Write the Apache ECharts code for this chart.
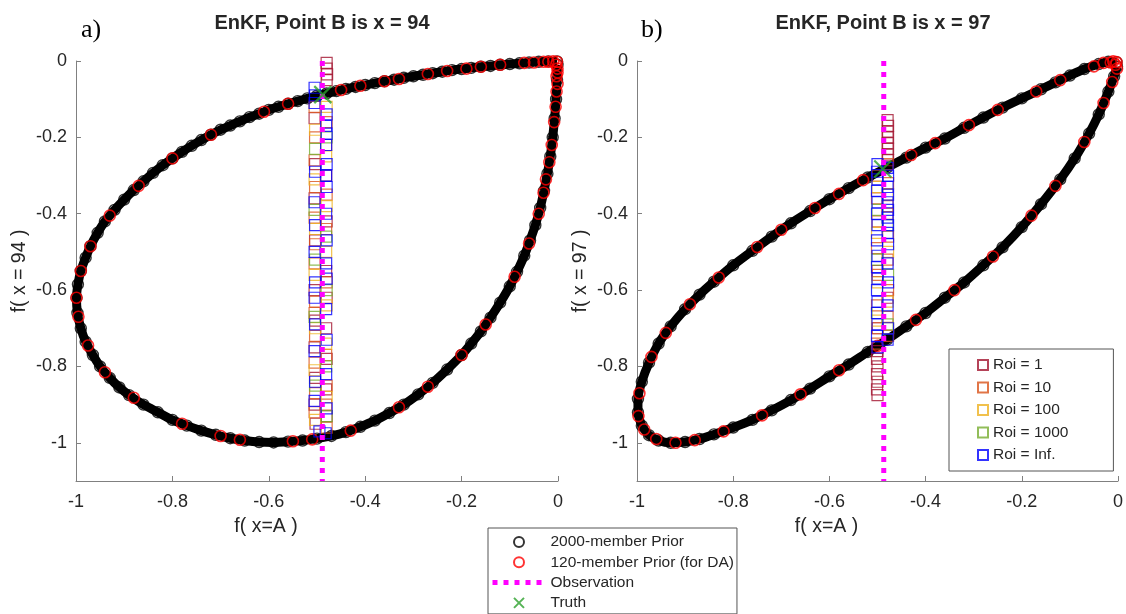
<!DOCTYPE html>
<html>
<head>
<meta charset="utf-8">
<script src="https://cdn.jsdelivr.net/npm/echarts@6/dist/echarts.min.js"></script>
<style>
  html, body { margin: 0; padding: 0; background: #fff; }
  #chart { width: 1126px; height: 614px; }
</style>
</head>
<body>
<div id="chart"></div>
<script>
// Axis ticks
const xTicks = [-1, -0.8, -0.6, -0.4, -0.2, 0];
const yTicks = [0, -0.2, -0.4, -0.6, -0.8, -1];

// Panel a) : point B is x = 94
const priorA = [
  [-0.002,-0.001],[-0.02,-0.001],[-0.04,-0.002],[-0.06,-0.004],[-0.08,-0.006],[-0.1,-0.008],[-0.12,-0.010],[-0.14,-0.013],
  [-0.16,-0.015],[-0.18,-0.018],[-0.2,-0.021],[-0.22,-0.024],[-0.24,-0.028],[-0.26,-0.032],[-0.28,-0.036],[-0.3,-0.040],
  [-0.32,-0.044],[-0.34,-0.049],[-0.36,-0.053],[-0.38,-0.058],[-0.4,-0.063],[-0.42,-0.068],[-0.44,-0.073],[-0.46,-0.079],
  [-0.48,-0.085],[-0.5,-0.091],[-0.52,-0.098],[-0.54,-0.105],[-0.56,-0.112],[-0.58,-0.120],[-0.6,-0.128],[-0.62,-0.138],
  [-0.64,-0.147],[-0.66,-0.158],[-0.68,-0.169],[-0.7,-0.180],[-0.72,-0.193],[-0.74,-0.207],[-0.76,-0.222],[-0.78,-0.238],
  [-0.8,-0.255],[-0.82,-0.273],[-0.84,-0.293],[-0.86,-0.315],[-0.88,-0.338],[-0.9,-0.363],[-0.92,-0.39],[-0.94,-0.42],
  [-0.955,-0.45],[-0.97,-0.485],[-0.98,-0.515],[-0.99,-0.55],[-0.996,-0.585],[-0.999,-0.62],
  [-0.997,-0.66],[-0.99,-0.7],[-0.98,-0.735],[-0.965,-0.77],[-0.95,-0.8],[-0.93,-0.83],[-0.91,-0.855],[-0.89,-0.875],
  [-0.86,-0.9],[-0.83,-0.92],[-0.8,-0.94],[-0.77,-0.955],[-0.74,-0.968],[-0.71,-0.979],[-0.68,-0.988],[-0.65,-0.994],
  [-0.62,-0.998],[-0.59,-0.999],[-0.56,-0.997],[-0.53,-0.994],[-0.5,-0.989],[-0.47,-0.982],[-0.44,-0.972],[-0.41,-0.958],
  [-0.38,-0.942],[-0.35,-0.922],[-0.32,-0.9],[-0.29,-0.873],[-0.26,-0.843],[-0.23,-0.808],[-0.2,-0.77],[-0.18,-0.74],
  [-0.16,-0.708],[-0.14,-0.672],[-0.12,-0.633],[-0.1,-0.59],[-0.085,-0.552],[-0.07,-0.51],[-0.058,-0.47],[-0.047,-0.43],
  [-0.037,-0.385],[-0.029,-0.34],[-0.022,-0.295],[-0.016,-0.25],[-0.011,-0.2],[-0.007,-0.15],[-0.004,-0.1],[-0.002,-0.05],
  [-0.001,-0.01]
];
const daPriorA = [
  [-0.002,-0.002],[-0.01,-0.001],[-0.02,-0.002],[-0.004,-0.01],[-0.001,-0.02],[-0.03,-0.002],[-0.05,-0.004],[-0.003,-0.04],
  [-0.07,-0.005],[-0.12,-0.01],[-0.16,-0.015],[-0.19,-0.02],[-0.23,-0.026],[-0.27,-0.034],[-0.33,-0.047],[-0.36,-0.053],
  [-0.41,-0.065],[-0.45,-0.076],[-0.56,-0.112],[-0.61,-0.133],[-0.72,-0.193],[-0.8,-0.255],[-0.87,-0.327],[-0.93,-0.405],
  [-0.97,-0.485],[-0.99,-0.55],[-0.999,-0.62],[-0.995,-0.67],[-0.975,-0.745],[-0.94,-0.815],[-0.88,-0.882],[-0.78,-0.95],
  [-0.7,-0.982],[-0.66,-0.992],[-0.55,-0.996],[-0.51,-0.991],[-0.43,-0.968],[-0.33,-0.907],[-0.27,-0.853],[-0.2,-0.77],
  [-0.15,-0.69],[-0.09,-0.565],[-0.06,-0.478],[-0.04,-0.4],[-0.03,-0.345],[-0.025,-0.31],[-0.018,-0.265],[-0.013,-0.22],
  [-0.008,-0.16],[-0.005,-0.12],[-0.003,-0.08],[-0.001,-0.03],[-0.001,-0.06]
];
const roi1A = [
  [-0.48,-0.005],[-0.48,-0.02],[-0.479,-0.035],[-0.48,-0.05],[-0.481,-0.3],[-0.48,-0.42],[-0.481,-0.55],[-0.48,-0.62],
  [-0.481,-0.7],[-0.48,-0.78],[-0.481,-0.86],[-0.48,-0.93],[-0.505,-0.15],[-0.504,-0.27],[-0.505,-0.36],[-0.504,-0.47],
  [-0.505,-0.6],[-0.504,-0.68],[-0.505,-0.75],[-0.504,-0.83],[-0.505,-0.9],[-0.503,-0.95]
];
const roi10A = [
  [-0.505,-0.12],[-0.504,-0.2],[-0.505,-0.26],[-0.504,-0.33],[-0.505,-0.41],[-0.504,-0.48],[-0.505,-0.53],[-0.504,-0.63],
  [-0.505,-0.66],[-0.504,-0.72],[-0.505,-0.79],[-0.504,-0.87],[-0.505,-0.92],[-0.48,-0.16],[-0.481,-0.22],[-0.48,-0.35],
  [-0.481,-0.44],[-0.48,-0.58],[-0.481,-0.77],[-0.48,-0.85],[-0.481,-0.9],[-0.48,-0.96]
];
const roi100A = [
  [-0.504,-0.18],[-0.505,-0.31],[-0.504,-0.44],[-0.505,-0.56],[-0.504,-0.7],[-0.505,-0.81],[-0.504,-0.94],
  [-0.48,-0.12],[-0.481,-0.25],[-0.48,-0.38],[-0.481,-0.5],[-0.48,-0.64],[-0.481,-0.74],[-0.48,-0.88]
];
const roi1000A = [
  [-0.504,-0.23],[-0.505,-0.39],[-0.504,-0.52],[-0.505,-0.67],[-0.504,-0.85],
  [-0.48,-0.2],[-0.481,-0.46],[-0.48,-0.6],[-0.481,-0.8],[-0.48,-0.93]
];
const roiInfA = [
  [-0.505,-0.07],[-0.504,-0.09],[-0.505,-0.11],[-0.504,-0.29],[-0.505,-0.37],[-0.504,-0.43],[-0.505,-0.5],[-0.504,-0.58],
  [-0.505,-0.62],[-0.504,-0.69],[-0.505,-0.76],[-0.504,-0.84],[-0.505,-0.89],[-0.495,-0.97],
  [-0.48,-0.14],[-0.481,-0.17],[-0.48,-0.19],[-0.481,-0.22],[-0.48,-0.27],[-0.481,-0.3],[-0.48,-0.33],[-0.481,-0.4],
  [-0.48,-0.47],[-0.481,-0.53],[-0.48,-0.57],[-0.481,-0.65],[-0.48,-0.73],[-0.481,-0.82],[-0.48,-0.91],[-0.482,-0.975]
];
const truthA = [[-0.488, -0.088]];
const obsA = -0.489;

// Panel b) : point B is x = 97
const priorB = [
  [-0.003,-0.003],[-0.02,-0.002],[-0.04,-0.008],[-0.07,-0.021],[-0.1,-0.038],[-0.13,-0.056],[-0.16,-0.074],[-0.2,-0.098],
  [-0.24,-0.122],[-0.28,-0.148],[-0.32,-0.175],[-0.36,-0.203],[-0.4,-0.227],[-0.44,-0.253],[-0.48,-0.279],[-0.52,-0.305],
  [-0.56,-0.333],[-0.6,-0.362],[-0.64,-0.393],[-0.68,-0.425],[-0.72,-0.46],[-0.76,-0.497],[-0.8,-0.535],[-0.84,-0.578],
  [-0.87,-0.612],[-0.9,-0.65],[-0.93,-0.695],[-0.955,-0.74],[-0.975,-0.79],[-0.99,-0.84],[-0.998,-0.885],
  [-0.998,-0.92],[-0.99,-0.955],[-0.975,-0.98],[-0.955,-0.994],[-0.93,-1.0],[-0.9,-0.998],[-0.87,-0.99],[-0.84,-0.978],
  [-0.8,-0.96],[-0.76,-0.94],[-0.72,-0.915],[-0.68,-0.888],[-0.64,-0.858],[-0.6,-0.826],[-0.56,-0.795],[-0.52,-0.762],
  [-0.48,-0.73],[-0.44,-0.695],[-0.4,-0.66],[-0.36,-0.62],[-0.32,-0.58],[-0.28,-0.535],[-0.24,-0.488],[-0.2,-0.435],
  [-0.16,-0.375],[-0.12,-0.31],[-0.09,-0.255],[-0.06,-0.19],[-0.04,-0.14],[-0.02,-0.08],[-0.008,-0.04],[-0.002,-0.015]
];
const daPriorB = [
  [-0.003,-0.003],[-0.01,-0.001],[-0.015,-0.004],[-0.005,-0.01],[-0.03,-0.005],[-0.05,-0.014],[-0.002,-0.02],
  [-0.12,-0.05],[-0.17,-0.08],[-0.25,-0.128],[-0.31,-0.168],[-0.38,-0.215],[-0.43,-0.246],[-0.53,-0.312],[-0.58,-0.348],
  [-0.63,-0.385],[-0.7,-0.442],[-0.75,-0.487],[-0.83,-0.567],[-0.89,-0.637],[-0.94,-0.712],[-0.97,-0.775],[-0.995,-0.87],
  [-0.997,-0.93],[-0.985,-0.965],[-0.96,-0.99],[-0.92,-1.0],[-0.88,-0.993],[-0.82,-0.97],[-0.74,-0.928],[-0.66,-0.873],
  [-0.58,-0.81],[-0.5,-0.746],[-0.42,-0.678],[-0.34,-0.6],[-0.26,-0.512],[-0.18,-0.405],[-0.13,-0.327],[-0.07,-0.212],
  [-0.03,-0.11],[-0.012,-0.055]
];
const roi1B = [
  [-0.479,-0.155],[-0.478,-0.17],[-0.479,-0.185],[-0.478,-0.2],[-0.479,-0.215],[-0.478,-0.23],[-0.479,-0.245],[-0.478,-0.26],
  [-0.5,-0.76],[-0.501,-0.78],[-0.5,-0.8],[-0.501,-0.82],[-0.5,-0.84],[-0.501,-0.86],[-0.5,-0.875],
  [-0.479,-0.4],[-0.5,-0.55],[-0.479,-0.62],[-0.5,-0.7]
];
const roi10B = [
  [-0.5,-0.3],[-0.501,-0.36],[-0.5,-0.42],[-0.501,-0.49],[-0.5,-0.56],[-0.501,-0.64],[-0.5,-0.7],[-0.501,-0.74],
  [-0.479,-0.27],[-0.478,-0.32],[-0.479,-0.38],[-0.478,-0.46],[-0.479,-0.52],[-0.478,-0.6],[-0.479,-0.67],[-0.478,-0.72]
];
const roi100B = [
  [-0.5,-0.33],[-0.501,-0.45],[-0.5,-0.58],[-0.501,-0.68],
  [-0.479,-0.35],[-0.478,-0.5],[-0.479,-0.63],[-0.478,-0.7]
];
const roi1000B = [
  [-0.5,-0.39],[-0.501,-0.52],[-0.5,-0.66],
  [-0.479,-0.43],[-0.478,-0.56],[-0.479,-0.69]
];
const roiInfB = [
  [-0.5,-0.27],[-0.501,-0.29],[-0.5,-0.31],[-0.501,-0.34],[-0.5,-0.37],[-0.501,-0.4],[-0.5,-0.43],[-0.501,-0.47],
  [-0.5,-0.51],[-0.501,-0.54],[-0.5,-0.57],[-0.501,-0.6],[-0.5,-0.63],[-0.501,-0.66],[-0.5,-0.69],[-0.501,-0.72],[-0.5,-0.75],
  [-0.479,-0.28],[-0.478,-0.3],[-0.479,-0.33],[-0.478,-0.35],[-0.479,-0.37],[-0.478,-0.39],[-0.479,-0.41],[-0.478,-0.43],
  [-0.479,-0.45],[-0.478,-0.48],[-0.479,-0.53],[-0.478,-0.58],[-0.479,-0.64],[-0.478,-0.7],[-0.479,-0.73]
];
const truthB = [[-0.489, -0.283]];
const obsB = -0.487;

// Chart styling
const FONT = '"Liberation Sans", Arial, Helvetica, sans-serif';
const SERIF = '"Liberation Serif", "Times New Roman", serif';
const AXIS_GREY = '#808080';
const TEXT_DARK = '#262626';
const OBS_MAGENTA = '#FF00FF';
const roiColors = ['#A2142F', '#D95319', '#EDB120', '#77AC30', '#0000FF'];
const roiNames = ['Roi = 1', 'Roi = 10', 'Roi = 100', 'Roi = 1000', 'Roi = Inf.'];
const crossPath = 'path://M0,0L10,10M10,0L0,10';

function xAxisFor(gridIndex) {
  return {
    type: 'value', gridIndex, min: -1, max: 0, interval: 0.2,
    name: 'f( x=A )', nameLocation: 'middle', nameGap: 36,
    // label sits under the left half of the axis
    nameTextStyle: { fontFamily: FONT, fontSize: 19.5, color: TEXT_DARK, padding: [0, 102, 0, 0] },
    axisLine: { onZero: false, lineStyle: { color: AXIS_GREY, width: 1 } },
    axisTick: { inside: true, length: 5, lineStyle: { color: AXIS_GREY } },
    axisLabel: { fontFamily: FONT, fontSize: 18, color: TEXT_DARK, margin: 12 },
    splitLine: { show: false }
  };
}
function yAxisFor(gridIndex, label) {
  return {
    type: 'value', gridIndex, min: -1.1, max: 0,
    name: label, nameLocation: 'middle', nameGap: 46,
    nameTextStyle: { fontFamily: FONT, fontSize: 19.5, color: TEXT_DARK },
    axisLine: { show: true, onZero: false, lineStyle: { color: AXIS_GREY, width: 1 } },
    axisTick: { show: true, inside: true, length: 5, lineStyle: { color: AXIS_GREY }, customValues: yTicks },
    axisLabel: { fontFamily: FONT, fontSize: 18, color: TEXT_DARK, margin: 9, customValues: yTicks },
    splitLine: { show: false }
  };
}

function panelSeries(i, prior, daPrior, rois, truth, obsX) {
  const s = [];
  // band tracing the prior ensemble along its closed curve
  s.push({
    type: 'line', xAxisIndex: i, yAxisIndex: i, data: prior, showSymbol: false,
    lineStyle: { color: '#000', width: 9 }, smooth: 0.2, silent: true, z: 1
  });
  s.push({
    name: '2000-member Prior', type: 'scatter', xAxisIndex: i, yAxisIndex: i, data: prior,
    symbol: 'circle', symbolSize: 11,
    itemStyle: { color: 'rgba(0,0,0,0)', borderColor: '#000', borderWidth: 1.4 }, z: 2
  });
  s.push({
    name: '120-member Prior (for DA)', type: 'scatter', xAxisIndex: i, yAxisIndex: i, data: daPrior,
    symbol: 'circle', symbolSize: 11,
    itemStyle: { color: 'rgba(0,0,0,0)', borderColor: '#FF0000', borderWidth: 1.6 }, z: 3
  });
  rois.forEach((d, k) => {
    s.push({
      name: roiNames[k], type: 'scatter', xAxisIndex: i, yAxisIndex: i, data: d,
      symbol: 'rect', symbolSize: 11,
      itemStyle: { color: 'rgba(0,0,0,0)', borderColor: roiColors[k], borderWidth: 1.2 }, z: 4
    });
  });
  s.push({
    name: 'Observation', type: 'line', xAxisIndex: i, yAxisIndex: i,
    data: [[obsX, 0], [obsX, -1.1]], symbol: 'none',
    itemStyle: { color: OBS_MAGENTA },
    lineStyle: { color: OBS_MAGENTA, width: 5, type: [5, 6] }, z: 5
  });
  s.push({
    name: 'Truth', type: 'scatter', xAxisIndex: i, yAxisIndex: i, data: truth,
    symbol: crossPath, symbolSize: 17, symbolKeepAspect: true,
    itemStyle: { color: 'none', borderColor: '#2CA02C', borderWidth: 2.2 }, z: 6
  });
  return s;
}

const chart = echarts.init(document.getElementById('chart'), null, { renderer: 'canvas' });
chart.setOption({
  animation: false,
  backgroundColor: '#fff',
  title: [
    { text: 'EnKF, Point B is x = 94', left: 317, top: 8, textAlign: 'center',
      textStyle: { fontFamily: FONT, fontSize: 20, fontWeight: 'bold', color: TEXT_DARK } },
    { text: 'EnKF, Point B is x = 97', left: 878, top: 8, textAlign: 'center',
      textStyle: { fontFamily: FONT, fontSize: 20, fontWeight: 'bold', color: TEXT_DARK } },
    { text: 'a)', left: 76, top: 12,
      textStyle: { fontFamily: SERIF, fontSize: 26, fontWeight: 'normal', color: '#000' } },
    { text: 'b)', left: 636, top: 12,
      textStyle: { fontFamily: SERIF, fontSize: 26, fontWeight: 'normal', color: '#000' } }
  ],
  grid: [
    { left: 76, top: 61, width: 482, height: 420 },
    { left: 637, top: 61, width: 482, height: 420 }
  ],
  xAxis: [xAxisFor(0), xAxisFor(1)],
  yAxis: [yAxisFor(0, 'f( x = 94 )'), yAxisFor(1, 'f( x = 97 )')],
  legend: [
    {
      orient: 'vertical', left: 488, top: 528, height: 90,
      padding: [6, 3, 3, 2], itemGap: 4.3, itemWidth: 53, itemHeight: 10,
      borderColor: '#555', borderWidth: 1, backgroundColor: '#fff',
      textStyle: { fontFamily: FONT, fontSize: 15.5, lineHeight: 15, color: TEXT_DARK },
      data: [
        { name: '2000-member Prior', icon: 'circle' },
        { name: '120-member Prior (for DA)', icon: 'circle' },
        { name: 'Observation',
          itemStyle: { color: 'rgba(0,0,0,0)', borderColor: 'rgba(0,0,0,0)' },
          lineStyle: { color: OBS_MAGENTA, width: 5, type: [5, 6] } },
        { name: 'Truth', icon: crossPath }
      ]
    },
    {
      orient: 'vertical', left: 949, top: 349,
      padding: [8, 45, 8, 28], itemGap: 6.5, itemWidth: 10, itemHeight: 10,
      borderColor: '#555', borderWidth: 1, backgroundColor: '#fff',
      textStyle: { fontFamily: FONT, fontSize: 15.5, lineHeight: 15, color: TEXT_DARK },
      data: roiNames.map(n => ({ name: n, icon: 'rect' }))
    }
  ],
  series: [
    ...panelSeries(0, priorA, daPriorA, [roi1A, roi10A, roi100A, roi1000A, roiInfA], truthA, obsA),
    ...panelSeries(1, priorB, daPriorB, [roi1B, roi10B, roi100B, roi1000B, roiInfB], truthB, obsB)
  ]
});
</script>
</body>
</html>
